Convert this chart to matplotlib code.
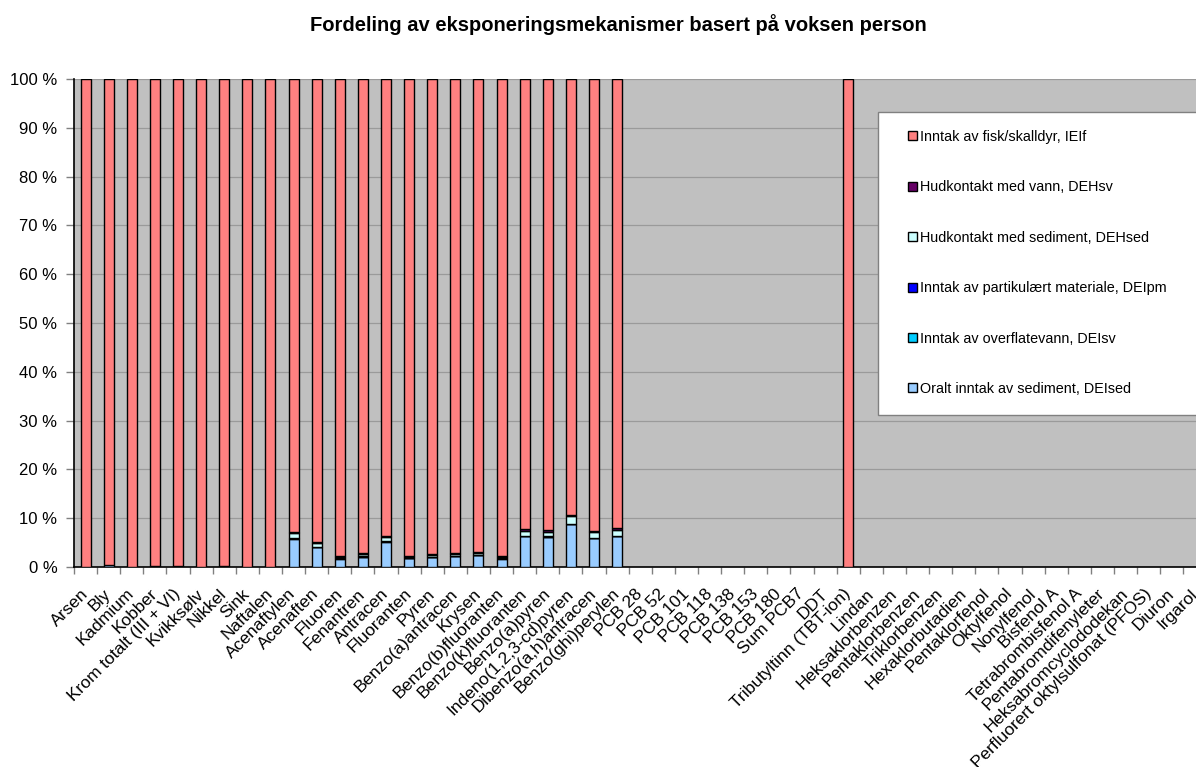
import numpy as np
import matplotlib
matplotlib.use("Agg")
import matplotlib.pyplot as plt
from matplotlib.patches import Rectangle, Patch

plt.rcParams['font.family'] = ['Liberation Sans', 'DejaVu Sans']

title = "Fordeling av eksponeringsmekanismer basert på voksen person"

categories = [
    "Arsen", "Bly", "Kadmium", "Kobber", "Krom totalt (III + VI)", "Kvikksølv",
    "Nikkel", "Sink", "Naftalen", "Acenaftylen", "Acenaften", "Fluoren",
    "Fenantren", "Antracen", "Fluoranten", "Pyren", "Benzo(a)antracen", "Krysen",
    "Benzo(b)fluoranten", "Benzo(k)fluoranten", "Benzo(a)pyren",
    "Indeno(1,2,3-cd)pyren", "Dibenzo(a,h)antracen", "Benzo(ghi)perylen",
    "PCB 28", "PCB 52", "PCB 101", "PCB 118", "PCB 138", "PCB 153", "PCB 180",
    "Sum PCB7", "DDT", "Tributyltinn (TBT-ion)", "Lindan", "Heksaklorbenzen",
    "Pentaklorbenzen", "Triklorbenzen", "Hexaklorbutadien", "Pentaklorfenol",
    "Oktylfenol", "Nonylfenol", "Bisfenol A", "Tetrabrombisfenol A",
    "Pentabromdifenyleter", "Heksabromcyclododekan",
    "Perfluorert oktylsulfonat (PFOS)", "Diuron", "Irgarol",
]

# values in percent (stack order bottom -> top); empty categories = 0
z25 = [0] * 25
oralt_sediment_DEIsed = [0.05, 0.4, 0.05, 0.2, 0.3, 0.02, 0.15, 0.1, 0.02,
                         5.8, 4.1, 1.7, 2.1, 5.2, 1.8, 2.0, 2.2, 2.4, 1.7,
                         6.3, 6.2, 8.8, 5.9, 6.3] + z25
overflatevann_DEIsv = [0] * 9 + [0.1, 0.05, 0.05, 0.05, 0.05, 0.05, 0.05, 0.05,
                                 0.05, 0.05, 0.05, 0.05, 0.05, 0.05, 0.05] + z25
partikulaert_DEIpm = [0] * 9 + [0.05, 0.02, 0.02, 0.02, 0.02, 0.02, 0.02, 0.02,
                                0.02, 0.02, 0.02, 0.02, 0.02, 0.02, 0.02] + z25
hud_sediment_DEHsed = [0] * 9 + [1.1, 0.7, 0.3, 0.4, 0.8, 0.25, 0.4, 0.45,
                                 0.5, 0.25, 1.1, 1.0, 1.6, 1.15, 1.3] + z25
hud_vann_DEHsv = [0] * 9 + [0.2, 0.3, 0.2, 0.2, 0.3, 0.15, 0.2, 0.2,
                            0.15, 0.15, 0.25, 0.25, 0.25, 0.25, 0.25] + z25
fisk_IEIf = [99.95, 99.6, 99.95, 99.8, 99.7, 99.98, 99.85, 99.9, 99.98,
             92.75, 94.83, 97.73, 97.23, 93.63, 97.73, 97.33, 97.08, 96.88,
             97.83, 92.28, 92.48, 89.28, 92.63, 92.08,
             0, 0, 0, 0, 0, 0, 0, 0, 0, 100,
             0, 0, 0, 0, 0, 0, 0, 0, 0, 0, 0, 0, 0, 0, 0]

series = [
    ("Oralt inntak av sediment, DEIsed", oralt_sediment_DEIsed, "#99CCFF"),
    ("Inntak av overflatevann, DEIsv", overflatevann_DEIsv, "#00CCFF"),
    ("Inntak av partikulært materiale, DEIpm", partikulaert_DEIpm, "#0000FF"),
    ("Hudkontakt med sediment, DEHsed", hud_sediment_DEHsed, "#CCFFFF"),
    ("Hudkontakt med vann, DEHsv", hud_vann_DEHsv, "#660066"),
    ("Inntak av fisk/skalldyr, IEIf", fisk_IEIf, "#FF8080"),
]

W, H = 1196, 767
fig = plt.figure(figsize=(W / 100, H / 100), dpi=100)
fig.patch.set_facecolor("white")

x0, x1, ytop, ybot = 74, 1206.5, 79, 567
ax = fig.add_axes([x0 / W, 1 - ybot / H, (x1 - x0) / W, (ybot - ytop) / H])
ax.set_facecolor("#C0C0C0")

n = len(categories)
x = np.arange(n)
bottom = np.zeros(n)
for label, vals, color in series:
    v = np.array(vals, dtype=float)
    m = v > 0
    ax.bar(x[m], v[m], bottom=bottom[m], width=0.43, color=color,
           edgecolor="black", linewidth=1.0, zorder=3)
    bottom += v

ax.set_xlim(-0.5, n - 0.5)
ax.set_ylim(0, 100)
ax.set_yticks(np.arange(0, 101, 10))
ax.set_yticklabels([f"{v} %" for v in range(0, 101, 10)], fontsize=12)
ax.yaxis.grid(True, color="#9A9A9A", linewidth=0.9, zorder=0)
ax.set_axisbelow(True)

ax.set_xticks(np.arange(-0.5, n, 1))
ax.set_xticklabels([])
ax.set_xticks(x, minor=True)
ax.set_xticklabels(categories, minor=True, rotation=45, ha="right",
                   va="center", rotation_mode="anchor", fontsize=12.5)
ax.tick_params(axis="x", which="minor", length=0, pad=17.5)
ax.tick_params(axis="x", which="major", length=5, color="#808080", width=1)
ax.tick_params(axis="y", length=6, color="#808080", width=1, pad=6)

for s in ["top", "right"]:
    ax.spines[s].set_visible(False)
ax.spines["left"].set_color("black")
ax.spines["bottom"].set_color("black")
ax.spines["left"].set_linewidth(1.2)
ax.spines["bottom"].set_linewidth(1.2)

fig.text(618 / W, 1 - 31 / H, title, ha="center", va="baseline",
         fontsize=14.5, fontweight="bold")

# legend frame
fig.patches.append(Rectangle((878 / W, 1 - 415 / H), (1215 - 878) / W,
                             (415 - 112) / H, transform=fig.transFigure,
                             facecolor="white", edgecolor="#808080",
                             linewidth=1.0, zorder=5))
handles = [Patch(facecolor=c, edgecolor="black", linewidth=1.0, label=l)
           for l, _, c in reversed(series)]
leg = fig.legend(handles=handles, loc="upper left",
                 bbox_to_anchor=(908 / W, 1 - 130 / H), frameon=False,
                 fontsize=10.4, borderpad=0, borderaxespad=0,
                 handlelength=0.6, handleheight=0.6, handletextpad=0.2,
                 labelspacing=2.52)
leg.set_zorder(6)

fig.savefig("out.png", dpi=100)
